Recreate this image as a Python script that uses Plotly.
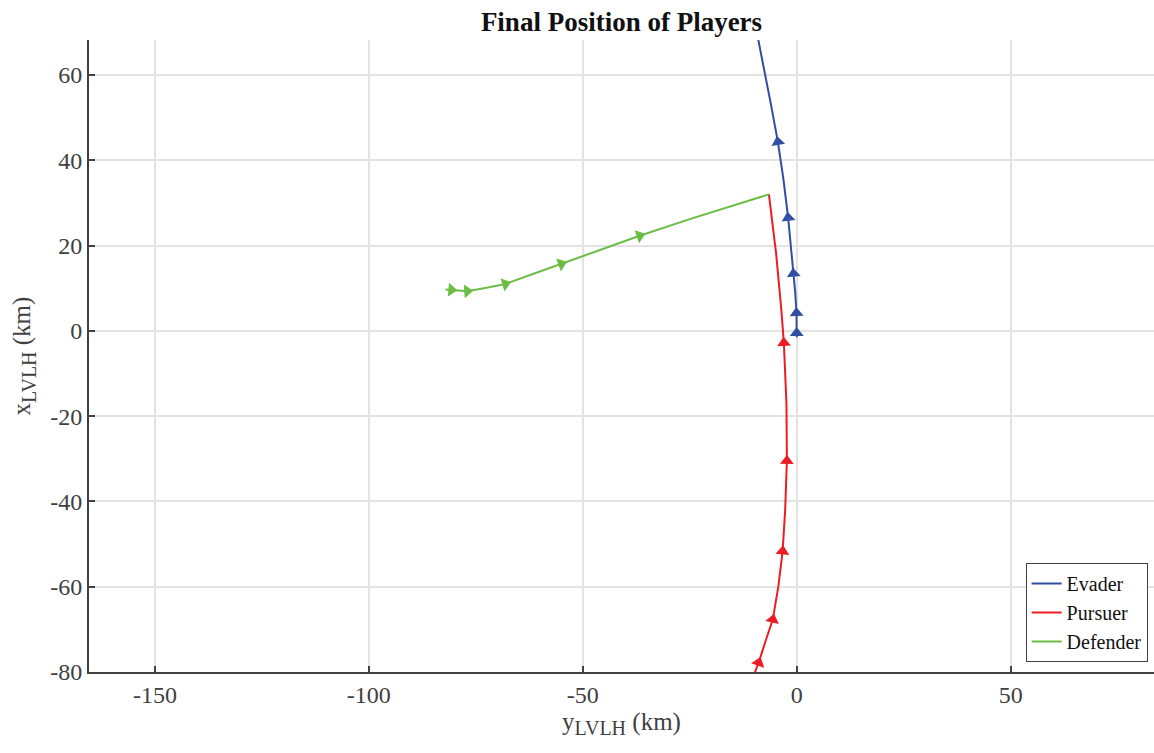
import numpy as np
import plotly.graph_objects as go

# Data (horizontal: y_LVLH, vertical: x_LVLH), km
evader_y = [0.0, 0.0, -0.05, -0.35, -0.75, -1.3, -2.0, -3.1, -4.4, -6.0, -8.8, -10.5]
evader_x = [-1.5, -0.5, 4.2, 9.0, 13.4, 19.5, 26.5, 35.5, 44.3, 53.0, 68.2, 76.0]
evader_arrows = [1, 2, 4, 6, 8]

pursuer_y = [-10.5, -8.9, -7.2, -5.6, -4.3, -3.3, -2.7, -2.3, -2.4, -3.0, -3.6, -4.8, -6.5]
pursuer_x = [-82.0, -77.8, -72.5, -67.7, -60.0, -51.7, -42.0, -30.5, -17.0, -2.8, 5.0, 18.0, 32.0]
pursuer_arrows = [1, 3, 5, 7, 9]

defender_y = [-82.1, -80.7, -77.0, -72.5, -68.1, -62.0, -55.0, -46.0, -36.7, -25.0, -15.0, -6.5]
defender_x = [9.7, 9.6, 9.3, 10.1, 11.0, 13.2, 15.7, 19.0, 22.3, 26.2, 29.3, 32.0]
defender_arrows = [1, 2, 4, 6, 8]

names = ["Evader", "Pursuer", "Defender"]
colors = ["rgb(50,78,162)", "rgb(237,28,36)", "rgb(106,190,69)"]

x_ticks = [-150, -100, -50, 0, 50]
x_ticklabels = ["-150", "-100", "-50", "0", "50"]
y_ticks = [-80, -60, -40, -20, 0, 20, 40, 60]
y_ticklabels = ["-80", "-60", "-40", "-20", "0", "20", "40", "60"]

FONT = "Liberation Serif, Times New Roman, serif"

fig = go.Figure()
series = [
    (evader_y, evader_x, evader_arrows),
    (pursuer_y, pursuer_x, pursuer_arrows),
    (defender_y, defender_x, defender_arrows),
]
for (hy, vx, arr), name, col in zip(series, names, colors):
    hy_a = np.array(hy)
    vx_a = np.array(vx)
    fig.add_trace(go.Scatter(x=hy_a, y=vx_a, mode="lines", name=name,
                             line=dict(color=col, width=2)))
    ang = []
    for i in arr:
        i0 = max(i - 1, 0)
        i1 = min(i + 1, len(hy_a) - 1)
        ang.append(float(np.degrees(np.arctan2(hy_a[i1] - hy_a[i0], vx_a[i1] - vx_a[i0]))))
    fig.add_trace(go.Scatter(x=hy_a[arr], y=vx_a[arr], mode="markers", showlegend=False,
                             marker=dict(symbol="triangle-up", size=12, color=col,
                                         angle=ang, line=dict(width=0))))

fig.update_layout(
    width=1154, height=753,
    margin=dict(l=89, r=0, t=40, b=81),
    paper_bgcolor="white", plot_bgcolor="white",
    font=dict(family=FONT, size=24, color="#404040"),
    title=dict(text="<b>Final Position of Players</b>", x=(89 + 1154) / 2 / 1154, xanchor="center",
               y=1 - 22 / 753, yanchor="middle", yref="container",
               font=dict(family=FONT, size=27, color="#111111")),
    legend=dict(x=0.994, xanchor="right", y=0.016, yanchor="bottom",
                bgcolor="white", bordercolor="#404040", borderwidth=1,
                font=dict(family=FONT, size=20, color="#111111"),
                tracegroupgap=0, itemwidth=30),
    showlegend=True,
)
axis_common = dict(showgrid=True, gridcolor="#E3E3E3", gridwidth=2,
                   zeroline=False, showline=True, linecolor="#404040", linewidth=2,
                   ticks="inside", ticklen=6, tickcolor="#404040", tickwidth=2,
                   tickfont=dict(family=FONT, size=24, color="#404040"))
fig.update_xaxes(range=[-165.4, 83.5], tickvals=x_ticks, ticktext=x_ticklabels, **axis_common,
                 title=dict(text="y<sub><span style=\"font-size:20px\">LVLH</span></sub> (km)",
                            font=dict(family=FONT, size=25, color="#404040"), standoff=4))
fig.update_yaxes(range=[-80, 68.2], tickvals=y_ticks, ticktext=y_ticklabels, **axis_common,
                 title=dict(text="x<sub><span style=\"font-size:20px\">LVLH</span></sub> (km)",
                            font=dict(family=FONT, size=25, color="#404040"), standoff=12))

fig.write_html("out.html")
